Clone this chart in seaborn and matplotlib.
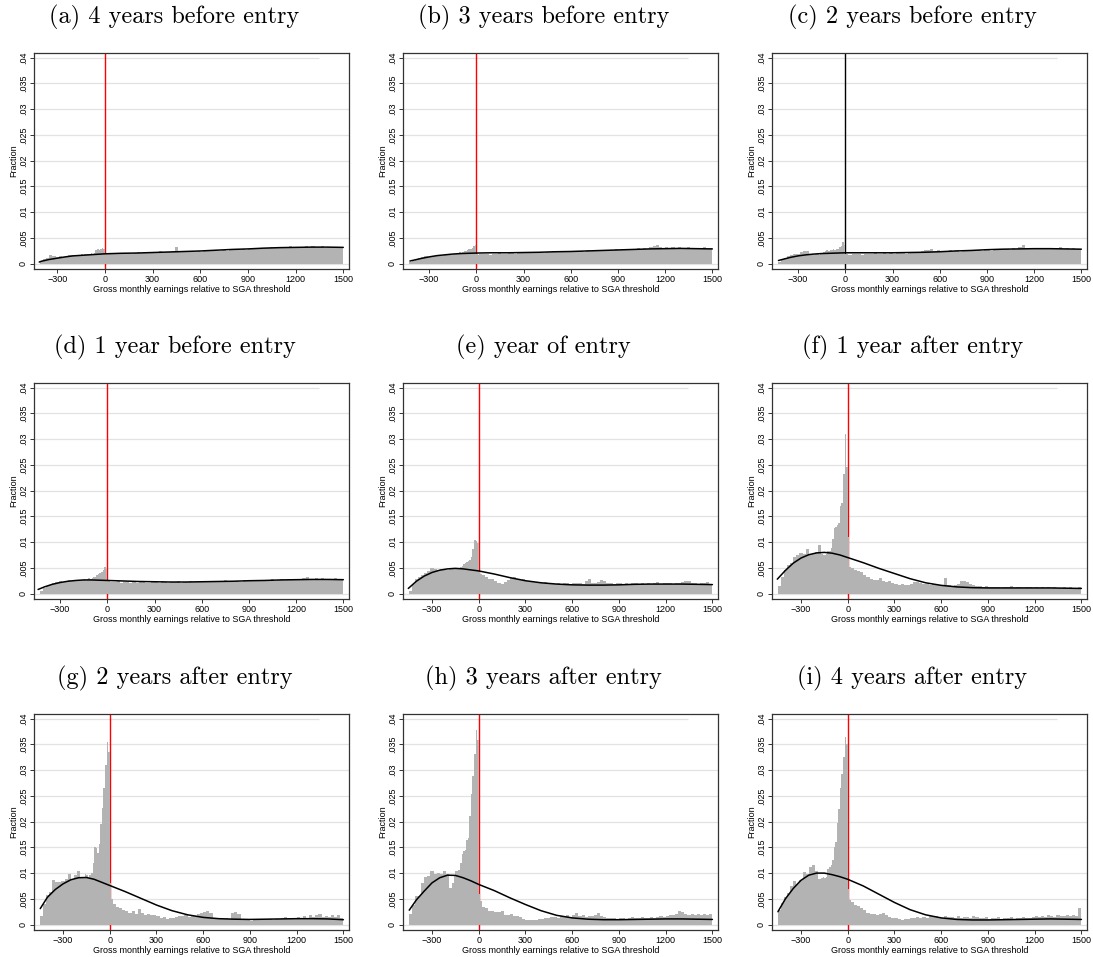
import matplotlib
matplotlib.use("Agg")
import matplotlib.pyplot as plt
import numpy as np
import pandas as pd
import seaborn as sns

titles = ["(a) 4 years before entry", "(b) 3 years before entry", "(c) 2 years before entry",
          "(d) 1 year before entry", "(e) year of entry", "(f) 1 year after entry",
          "(g) 2 years after entry", "(h) 3 years after entry", "(i) 4 years after entry"]
line_colors = ["red", "red", "black", "red", "red", "red", "red", "red", "red"]

y_ticks = [0, .005, .01, .015, .02, .025, .03, .035, .04]
y_tick_labels = ["0", ".005", ".01", ".015", ".02", ".025", ".03", ".035", ".04"]
x_ticks = [-300, 0, 300, 600, 900, 1200, 1500]
x_tick_labels = ["\u2212300", "0", "300", "600", "900", "1200", "1500"]

# bins: 20 wide on the tails, 10 wide around the threshold
edges = np.concatenate([np.arange(-450, -170, 20), np.arange(-170, 20, 10), np.arange(20, 1501, 20)])

# bar heights in thousandths: left tail (15), around threshold (18), right tail (74)
a_left = [0, 0, 0.5, 0.8, 1.1, 1.6, 1.4, 1.3, 1.4, 1.3, 1.5, 1.6, 1.7, 1.6, 1.7]
a_mid = [1.7, 1.8, 1.7, 1.9, 1.8, 1.9, 1.8, 2.0, 1.9, 2.1, 2.6, 2.9, 2.7, 2.9, 3.1, 2.9, 1.9, 1.8]
a_right = [1.9, 2.0, 1.9, 2.0, 1.8, 2.0, 2.1, 1.9, 2.0, 2.3,
           2.1, 2.2, 2.0, 2.3, 2.1, 2.2, 2.4, 2.2, 2.3, 2.2,
           2.5, 3.2, 2.2, 2.3, 2.2, 2.4, 2.3, 2.3, 2.4, 2.3,
           2.4, 2.5, 2.4, 2.6, 2.5, 2.5, 2.7, 2.5, 2.6, 2.7,
           2.9, 2.7, 2.8, 2.7, 2.9, 2.8, 2.8, 3.0, 2.9, 3.1,
           3.1, 3.2, 3.1, 3.3, 3.2, 3.3, 3.1, 3.4, 3.2, 3.1,
           3.3, 3.2, 3.4, 3.2, 3.5, 3.3, 3.2, 3.4, 3.1, 3.2,
           3.3, 3.1, 3.2, 3.0]

b_left = [0, 0.3, 0.6, 0.9, 1.1, 1.3, 1.4, 1.3, 1.5, 1.4, 1.6, 1.5, 1.7, 1.6, 1.8]
b_mid = [1.7, 1.9, 1.8, 2.0, 2.1, 2.2, 2.0, 2.3, 2.4, 2.5, 2.6, 2.8, 2.9, 3.0, 3.4, 3.6, 1.8, 1.7]
b_right = [1.8, 1.9, 1.8, 1.7, 1.9, 1.8, 2.0, 1.9, 1.8, 2.0,
           2.1, 1.9, 2.0, 2.0, 2.2, 2.1, 2.0, 2.3, 2.1, 2.2,
           2.1, 2.3, 2.2, 2.4, 2.2, 2.3, 2.5, 2.3, 2.2, 2.4,
           2.3, 2.5, 2.4, 2.3, 2.6, 2.4, 2.5, 2.6, 2.5, 2.4,
           2.6, 2.7, 2.6, 2.8, 2.7, 2.9, 2.8, 2.7, 2.9, 2.8,
           3.0, 2.9, 3.1, 2.9, 3.2, 3.4, 3.7, 3.3, 3.0, 3.2,
           3.1, 3.3, 3.0, 3.2, 3.1, 3.0, 3.2, 3.1, 2.9, 3.1,
           3.0, 3.2, 2.9, 3.0]

c_left = [0, 0.4, 0.8, 1.1, 1.4, 1.6, 1.9, 1.9, 2.2, 2.5, 2.5, 1.8, 1.7, 1.8, 1.7]
c_mid = [1.8, 1.9, 2.3, 2.5, 2.6, 2.4, 2.7, 2.6, 2.8, 2.7, 2.8, 2.9, 3.2, 3.5, 4.1, 3.7, 1.9, 1.8]
c_right = [1.7, 1.9, 1.8, 1.9, 1.7, 1.8, 1.9, 1.8, 2.0, 1.9,
           1.9, 2.0, 1.8, 2.0, 1.9, 2.1, 2.0, 2.1, 1.9, 2.0,
           2.1, 2.0, 2.2, 2.4, 2.7, 2.6, 2.8, 2.5, 2.7, 2.4,
           2.3, 2.5, 2.7, 2.4, 2.6, 2.3, 2.5, 2.4, 2.6, 2.5,
           2.4, 2.6, 2.5, 2.7, 2.6, 2.5, 2.8, 2.7, 2.6, 2.8,
           2.9, 2.7, 3.1, 2.9, 3.3, 3.6, 2.9, 3.0, 2.8, 3.1,
           2.9, 3.0, 2.8, 3.1, 2.9, 3.0, 2.9, 3.2, 2.8, 3.0,
           2.9, 3.1, 2.8, 2.9]

d_left = [0, 0.6, 1.0, 1.4, 1.7, 2.0, 2.2, 2.4, 2.3, 2.5, 2.6, 2.4, 2.6, 2.5, 2.7]
d_mid = [2.6, 2.8, 2.7, 2.9, 3.0, 2.8, 3.1, 3.3, 3.2, 3.6, 3.8, 4.0, 4.2, 4.6, 5.1, 4.8, 2.6, 2.4]
d_right = [2.3, 2.2, 2.4, 2.1, 2.3, 2.2, 2.0, 2.2, 2.1, 2.3,
           2.2, 2.0, 2.1, 2.3, 2.2, 2.1, 2.4, 2.2, 2.0, 2.3,
           2.2, 2.4, 2.1, 2.3, 2.2, 2.5, 2.3, 2.2, 2.4, 2.3,
           2.2, 2.4, 2.3, 2.5, 2.2, 2.4, 2.6, 2.3, 2.5, 2.4,
           2.5, 2.3, 2.6, 2.4, 2.5, 2.7, 2.4, 2.6, 2.5, 2.7,
           2.6, 2.8, 2.5, 2.7, 2.9, 2.6, 2.8, 2.7, 2.9, 2.6,
           2.8, 3.0, 3.3, 2.9, 2.7, 3.1, 2.8, 3.0, 2.7, 2.9,
           2.8, 3.1, 2.7, 2.9]

e_left = [0.6, 1.8, 2.8, 3.3, 3.7, 4.0, 4.4, 5.0, 4.8, 4.6, 4.8, 4.7, 4.6, 4.8, 4.7]
e_mid = [4.8, 4.7, 4.9, 4.8, 5.1, 5.4, 5.8, 6.0, 6.2, 6.3, 6.5, 7.2, 8.6, 10.4, 10.2, 9.9, 4.4, 3.8]
e_right = [3.6, 3.3, 2.9, 2.8, 2.5, 2.1, 1.9, 2.2, 2.6, 3.0,
           3.3, 2.9, 2.7, 2.8, 2.5, 2.4, 2.3, 2.2, 2.3, 2.1,
           2.2, 2.0, 2.1, 1.9, 2.0, 1.9, 2.1, 2.0, 1.9, 2.0,
           2.1, 2.0, 1.9, 2.5, 2.9, 2.1, 2.0, 2.2, 2.6, 2.4,
           2.1, 2.0, 1.9, 2.1, 2.0, 1.8, 2.0, 1.9, 2.1, 2.0,
           1.9, 2.0, 1.8, 2.1, 1.9, 2.0, 2.2, 1.9, 2.0, 2.1,
           2.0, 1.9, 2.1, 2.0, 2.2, 2.4, 2.5, 2.1, 2.0, 1.9,
           2.1, 2.0, 2.3, 1.9]

f_left = [1.5, 3.2, 4.6, 5.5, 6.0, 7.2, 7.5, 7.8, 7.6, 8.7, 7.7, 7.9, 8.0, 9.5, 7.7]
f_mid = [7.5, 7.4, 7.6, 8.2, 8.3, 8.8, 10.6, 12.7, 13.0, 13.3, 13.7, 17.0, 17.5, 23.2, 30.9, 24.5, 11.0, 5.2]
f_right = [5.0, 4.6, 4.3, 4.1, 3.6, 3.3, 2.8, 2.6, 2.7, 3.0,
           2.5, 2.2, 2.4, 2.0, 1.9, 1.7, 1.8, 1.6, 1.7, 1.9,
           2.2, 2.3, 2.1, 1.9, 1.8, 1.7, 1.8, 1.6, 1.7, 1.6,
           3.0, 1.6, 1.5, 1.7, 1.9, 2.4, 2.5, 2.2, 1.8, 1.6,
           1.5, 1.4, 1.3, 1.4, 1.2, 1.3, 1.2, 1.3, 1.1, 1.3,
           1.2, 1.4, 1.1, 1.3, 1.2, 1.1, 1.3, 1.2, 1.1, 1.2,
           1.1, 1.2, 1.0, 1.2, 1.1, 1.3, 1.1, 1.0, 1.2, 1.1,
           1.2, 1.0, 1.1, 1.3]

g_left = [1.7, 4.0, 5.8, 6.4, 8.6, 8.3, 8.2, 8.4, 8.9, 9.8, 8.9, 9.6, 10.5, 9.1, 9.2]
g_mid = [9.9, 9.6, 9.1, 9.7, 10.1, 12.0, 15.0, 14.8, 14.0, 15.6, 19.5, 22.7, 26.6, 31.0, 35.4, 33.6, 8.0, 5.0]
g_right = [4.0, 3.5, 3.3, 2.9, 2.7, 2.3, 2.6, 2.0, 3.0, 2.2,
           1.9, 2.0, 1.8, 1.9, 1.7, 1.2, 1.4, 1.1, 1.3, 1.2,
           1.5, 1.7, 1.6, 1.8, 1.5, 1.7, 1.6, 2.0, 2.3, 2.4,
           2.6, 2.2, 1.3, 1.1, 1.2, 1.0, 1.2, 1.1, 2.3, 2.5,
           2.0, 0.9, 0.8, 0.9, 0.7, 0.8, 1.0, 0.8, 0.9, 1.0,
           1.1, 0.9, 1.0, 1.1, 1.2, 1.4, 1.1, 1.3, 1.2, 1.5,
           1.3, 1.6, 1.2, 1.9, 1.4, 1.8, 2.0, 1.5, 1.7, 1.4,
           1.8, 1.5, 1.9, 1.2]

h_left = [2.0, 3.8, 5.6, 5.5, 8.0, 9.2, 9.4, 10.5, 9.9, 10.0, 9.9, 10.4, 9.9, 7.2, 8.0]
h_mid = [9.5, 10.5, 10.4, 10.6, 12.0, 13.8, 14.2, 14.5, 16.4, 16.8, 21.0, 25.3, 28.9, 33.2, 37.8, 35.8, 6.0, 4.5]
h_right = [3.4, 3.2, 2.6, 2.7, 2.5, 2.4, 2.6, 1.9, 1.8, 2.1,
           1.7, 1.6, 1.5, 1.0, 0.8, 0.9, 0.8, 0.9, 1.1, 1.0,
           1.3, 1.2, 1.4, 1.5, 1.3, 1.6, 1.4, 1.8, 1.5, 1.9,
           2.3, 1.6, 1.8, 1.5, 1.7, 1.6, 1.9, 2.3, 1.6, 1.4,
           1.3, 1.2, 1.3, 1.1, 1.2, 1.3, 1.1, 1.2, 1.4, 1.2,
           1.3, 1.4, 1.2, 1.3, 1.5, 1.3, 1.4, 1.6, 1.5, 1.7,
           1.9, 1.8, 2.0, 2.6, 2.4, 2.1, 1.9, 2.0, 1.8, 2.1,
           1.9, 2.0, 1.8, 2.1]

i_left = [2.8, 4.2, 5.4, 6.2, 7.4, 8.4, 7.9, 8.6, 10.2, 9.9, 11.2, 11.5, 10.5, 8.9, 9.0]
i_mid = [9.2, 9.0, 9.3, 10.8, 11.2, 11.5, 12.6, 15.1, 16.1, 19.7, 22.4, 26.6, 29.3, 32.6, 36.5, 35.0, 7.0, 4.8]
i_right = [4.4, 3.9, 3.7, 3.3, 2.8, 2.3, 2.1, 2.0, 1.9, 2.1,
           2.3, 1.8, 1.4, 1.3, 1.2, 1.0, 0.9, 1.1, 1.0, 1.2,
           1.3, 1.4, 1.2, 1.5, 1.3, 1.6, 1.4, 1.7, 1.5, 1.3,
           1.6, 1.4, 1.5, 1.3, 1.6, 1.2, 1.5, 1.4, 1.3, 1.6,
           1.4, 1.2, 1.3, 1.5, 1.1, 1.3, 1.2, 1.4, 1.0, 1.3,
           1.2, 1.4, 1.1, 1.3, 1.2, 1.5, 1.3, 1.2, 1.4, 1.6,
           1.5, 1.7, 1.4, 1.8, 1.6, 1.5, 1.9, 1.7, 1.6, 1.8,
           1.7, 1.9, 1.6, 3.2]

# fitted curve (thousandths): first point at curve_start, then at curve_x
curve_x = [-400, -350, -300, -250, -200, -150, -100, -50, 0, 100, 200, 300,
           400, 500, 600, 700, 800, 900, 1000, 1100, 1200, 1300, 1400, 1500]
curve_start = [-413, -422, -425, -440, -452, -452, -446, -446, -448]
a_curve = [0.3, 0.45, 0.8, 1.05, 1.3, 1.5, 1.6, 1.7, 1.8, 1.9, 2.0, 2.05, 2.15, 2.25, 2.35, 2.45, 2.6, 2.75, 2.85, 3.0, 3.1, 3.15, 3.2, 3.2, 3.15]
b_curve = [0.5, 0.65, 1.0, 1.3, 1.55, 1.7, 1.85, 1.95, 2.0, 2.05, 2.1, 2.1, 2.15, 2.2, 2.3, 2.35, 2.45, 2.55, 2.65, 2.75, 2.85, 2.9, 2.95, 2.9, 2.85]
c_curve = [0.6, 0.8, 1.2, 1.5, 1.7, 1.85, 1.95, 2.0, 2.05, 2.1, 2.1, 2.1, 2.1, 2.15, 2.2, 2.3, 2.45, 2.55, 2.7, 2.8, 2.85, 2.9, 2.9, 2.85, 2.8]
d_curve = [0.8, 1.3, 1.8, 2.15, 2.4, 2.55, 2.65, 2.65, 2.6, 2.55, 2.45, 2.35, 2.3, 2.25, 2.25, 2.3, 2.35, 2.4, 2.5, 2.55, 2.65, 2.7, 2.75, 2.75, 2.7]
e_curve = [1.0, 2.4, 3.4, 4.1, 4.55, 4.8, 4.9, 4.8, 4.6, 4.4, 3.8, 3.1, 2.5, 2.1, 1.85, 1.7, 1.65, 1.65, 1.7, 1.8, 1.85, 1.85, 1.85, 1.8, 1.75]
f_curve = [2.8, 4.5, 5.9, 6.9, 7.55, 7.9, 8.0, 7.85, 7.5, 7.0, 6.0, 4.9, 3.9, 2.9, 2.1, 1.6, 1.3, 1.15, 1.1, 1.1, 1.1, 1.1, 1.1, 1.05, 1.0]
g_curve = [3.1, 5.3, 6.8, 7.9, 8.7, 9.1, 9.15, 8.8, 8.2, 7.6, 6.4, 5.1, 3.8, 2.7, 1.9, 1.4, 1.15, 1.05, 1.0, 1.05, 1.1, 1.15, 1.15, 1.1, 0.95]
h_curve = [2.8, 4.8, 6.5, 8.1, 9.1, 9.6, 9.55, 9.1, 8.5, 7.8, 6.6, 5.2, 3.9, 2.7, 1.8, 1.3, 1.05, 0.95, 0.95, 1.0, 1.05, 1.1, 1.1, 1.05, 1.0]
i_curve = [2.5, 5.0, 7.0, 8.6, 9.6, 10.0, 10.0, 9.7, 9.3, 8.8, 7.5, 5.9, 4.3, 2.9, 1.9, 1.3, 1.0, 0.9, 0.9, 0.95, 1.0, 1.05, 1.1, 1.05, 1.0]

bars = [a_left + a_mid + a_right, b_left + b_mid + b_right, c_left + c_mid + c_right,
        d_left + d_mid + d_right, e_left + e_mid + e_right, f_left + f_mid + f_right,
        g_left + g_mid + g_right, h_left + h_mid + h_right, i_left + i_mid + i_right]
curves = [a_curve, b_curve, c_curve, d_curve, e_curve, f_curve, g_curve, h_curve, i_curve]

sns.set_style("white")
plt.rcParams["font.family"] = ["Liberation Sans", "DejaVu Sans"]
plt.rcParams["text.color"] = "black"
plt.rcParams["axes.labelcolor"] = "black"
plt.rcParams["xtick.color"] = "black"
plt.rcParams["ytick.color"] = "black"

W, H = 1093, 957
fig = plt.figure(figsize=(W / 100, H / 100), dpi=100)
col_left = [34, 403, 772]
row_top = [53, 383, 714]
aw, ah = 315, 216
fs = 6.5

centers = (edges[:-1] + edges[1:]) / 2
for k in range(9):
    r, c = divmod(k, 3)
    ax = fig.add_axes([col_left[c] / W, 1 - (row_top[r] + ah) / H, aw / W, ah / H])
    df = pd.DataFrame({"earn": centers, "frac": np.array(bars[k]) / 1000})
    first = edges[np.nonzero(df["frac"].values)[0][0]]
    xmin = first - 36
    ax.set_xlim(xmin, 1536)
    ax.set_ylim(-0.00105, 0.0409)

    for t in y_ticks[:-1]:
        ax.axhline(t, color="#e2e2e2", lw=0.9, zorder=0)
    ax.hlines(y_ticks[-1], xmin, 1345, color="#e2e2e2", lw=0.9, zorder=0)

    ax.axvline(0, color=line_colors[k], lw=1.0, zorder=1)
    sns.histplot(data=df, x="earn", weights="frac", bins=list(edges), ax=ax, color="#b3b3b3",
                 alpha=1, linewidth=0, edgecolor="none", zorder=2)
    cdf = pd.DataFrame({"earn": [curve_start[k]] + curve_x, "fit": np.array(curves[k]) / 1000})
    sns.lineplot(data=cdf, x="earn", y="fit", ax=ax, color="black", lw=1.1, zorder=3)

    ax.set_yticks(y_ticks)
    ax.set_yticklabels(y_tick_labels, rotation=90, va="center", fontsize=fs)
    ax.set_xticks(x_ticks)
    ax.set_xticklabels(x_tick_labels, fontsize=fs)
    ax.tick_params(axis="both", direction="out", length=3, width=0.7, color="#333333", pad=1.5,
                   left=True, bottom=True, top=False, right=False)
    ax.set_ylabel("Fraction", fontsize=fs, labelpad=0.5)
    ax.set_xlabel("Gross monthly earnings relative to SGA threshold", fontsize=fs, labelpad=0.5)
    for s in ax.spines.values():
        s.set_color("#333333")
        s.set_linewidth(0.9)

    fig.text((col_left[c] + aw / 2 - 17) / W, 1 - (row_top[r] - 36) / H, titles[k],
             ha="center", va="center", fontsize=17.5, fontfamily="cmr10", color="black")

fig.savefig("out.png", dpi=100)
